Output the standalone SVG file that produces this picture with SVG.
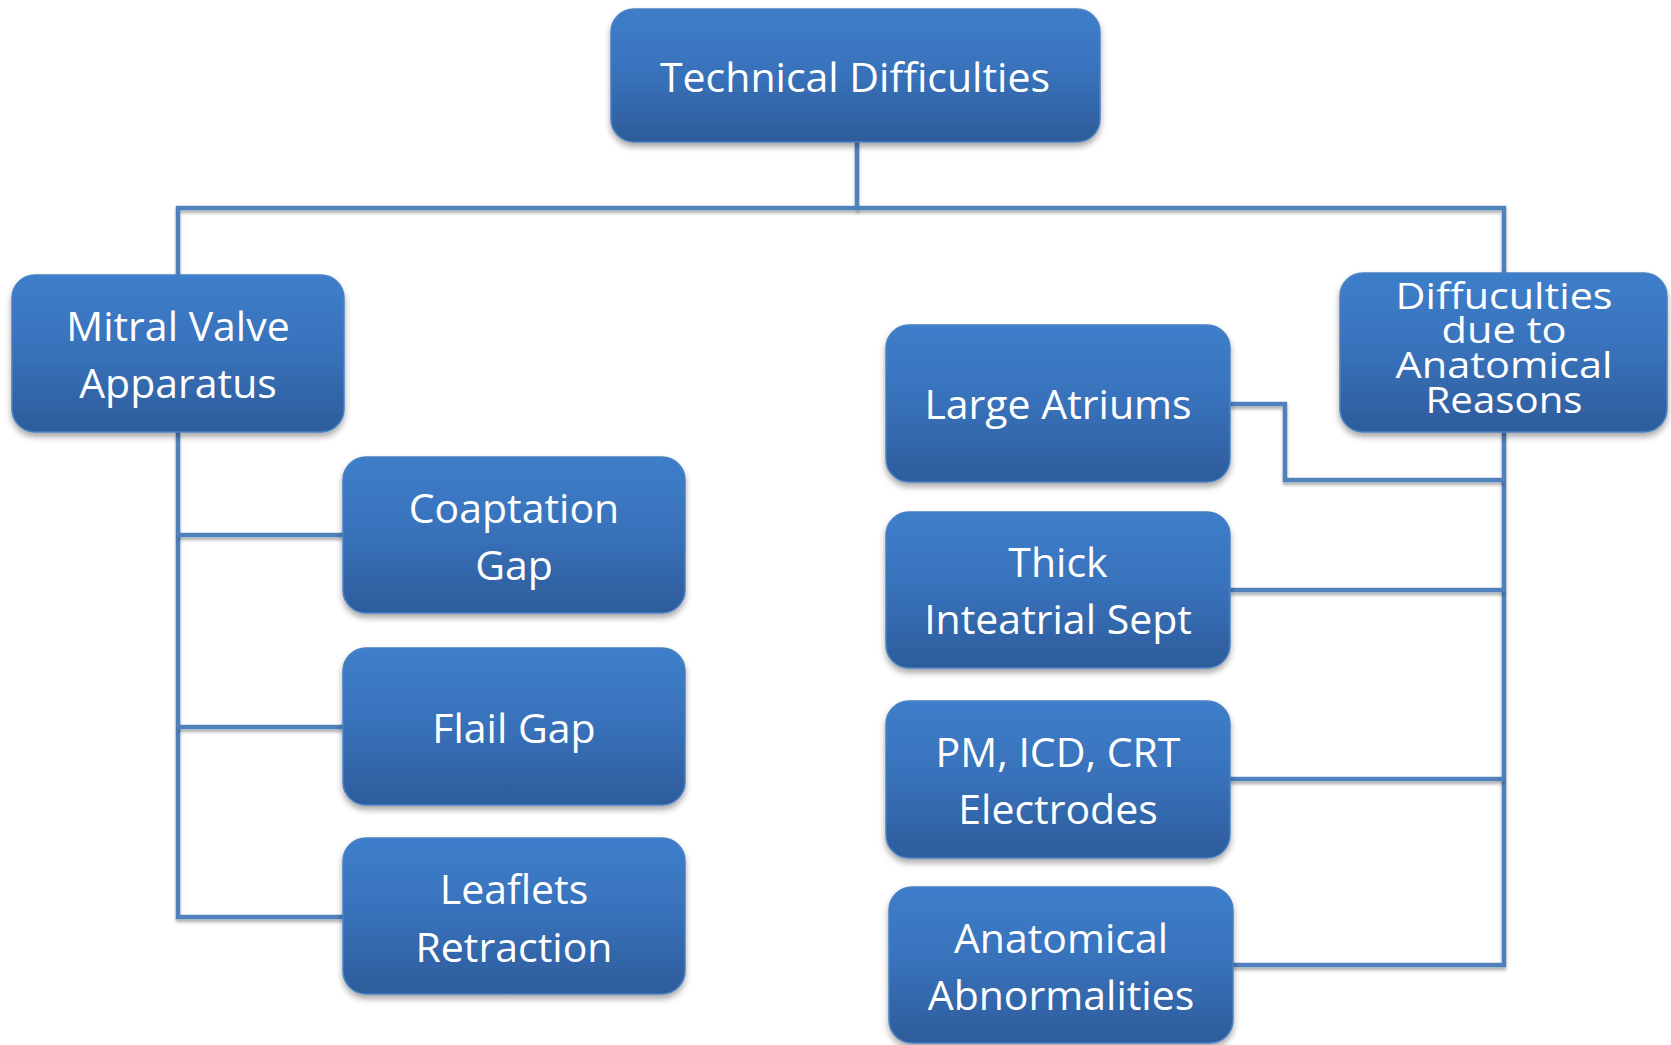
<svg xmlns="http://www.w3.org/2000/svg" width="1671" height="1045" viewBox="0 0 1671 1045">
<defs>
<linearGradient id="g" x1="0" y1="0" x2="0" y2="1">
<stop offset="0" stop-color="#3E7ECA"/>
<stop offset="0.5" stop-color="#3871BA"/>
<stop offset="1" stop-color="#2D5C9A"/>
</linearGradient>
<filter id="sh" x="-10%" y="-10%" width="120%" height="130%">
<feGaussianBlur in="SourceAlpha" stdDeviation="3"/>
<feOffset dx="0" dy="4" result="b"/>
<feFlood flood-color="#000" flood-opacity="0.35"/>
<feComposite in2="b" operator="in"/>
<feMerge><feMergeNode/><feMergeNode in="SourceGraphic"/></feMerge>
</filter>
<filter id="lsh" filterUnits="userSpaceOnUse" x="0" y="0" width="1671" height="1045">
<feGaussianBlur in="SourceAlpha" stdDeviation="1.5"/>
<feOffset dx="0" dy="3" result="b"/>
<feFlood flood-color="#000" flood-opacity="0.3"/>
<feComposite in2="b" operator="in"/>
<feMerge><feMergeNode/><feMergeNode in="SourceGraphic"/></feMerge>
</filter>
</defs>
<style>
.n rect{fill:url(#g);stroke:#4A80C2;stroke-width:1.5;filter:url(#sh)}
.n text{font-family:"Open Sans","Liberation Sans",sans-serif;font-size:41px;fill:#fff;text-anchor:middle}
.n text.s{font-size:36px}
.c path{fill:none;stroke:#4F81BD;stroke-width:4.5;filter:url(#lsh)}
</style>
<g class="c" id="connectors">
<path d="M857 142 V208 H178 V275"/>
<path d="M857 208 H1504 V273"/>
<path d="M178 432 V917 H343"/>
<path d="M178 535 H343"/>
<path d="M178 727 H343"/>
<path d="M1504 432 V965 H1233"/>
<path d="M1230 404 H1285 V480 H1504"/>
<path d="M1230 590 H1504"/>
<path d="M1230 779 H1504"/>
</g>
<g class="n" id="technical-difficulties">
<rect x="611" y="9" width="489" height="133" rx="23"/>
<text x="855" y="92">Technical Difficulties</text>
</g>
<g class="n" id="mitral-valve-apparatus">
<rect x="12" y="275" width="332" height="157" rx="23"/>
<text x="178" y="341">Mitral Valve</text>
<text x="178" y="398">Apparatus</text>
</g>
<g class="n" id="diffuculties">
<rect x="1340" y="273" width="327" height="159" rx="23"/>
<text class="s" x="1504" y="309" textLength="217" lengthAdjust="spacingAndGlyphs">Diffuculties</text>
<text class="s" x="1504" y="343" textLength="125" lengthAdjust="spacingAndGlyphs">due to</text>
<text class="s" x="1504" y="378" textLength="217" lengthAdjust="spacingAndGlyphs">Anatomical</text>
<text class="s" x="1504" y="413" textLength="157" lengthAdjust="spacingAndGlyphs">Reasons</text>
</g>
<g class="n" id="coaptation-gap">
<rect x="343" y="457" width="342" height="156" rx="23"/>
<text x="514" y="523">Coaptation</text>
<text x="514" y="580">Gap</text>
</g>
<g class="n" id="flail-gap">
<rect x="343" y="648" width="342" height="157" rx="23"/>
<text x="514" y="743">Flail Gap</text>
</g>
<g class="n" id="leaflets-retraction">
<rect x="343" y="838" width="342" height="156" rx="23"/>
<text x="514" y="904">Leaflets</text>
<text x="514" y="962">Retraction</text>
</g>
<g class="n" id="large-atriums">
<rect x="886" y="325" width="344" height="157" rx="23"/>
<text x="1058" y="419">Large Atriums</text>
</g>
<g class="n" id="thick-inteatrial-sept">
<rect x="886" y="512" width="344" height="156" rx="23"/>
<text x="1058" y="577">Thick</text>
<text x="1058" y="634">Inteatrial Sept</text>
</g>
<g class="n" id="pm-icd-crt">
<rect x="886" y="701" width="344" height="157" rx="23"/>
<text x="1058" y="767">PM, ICD, CRT</text>
<text x="1058" y="824">Electrodes</text>
</g>
<g class="n" id="anatomical-abnormalities">
<rect x="889" y="887" width="344" height="156" rx="23"/>
<text x="1061" y="953">Anatomical</text>
<text x="1061" y="1010">Abnormalities</text>
</g>
</svg>
